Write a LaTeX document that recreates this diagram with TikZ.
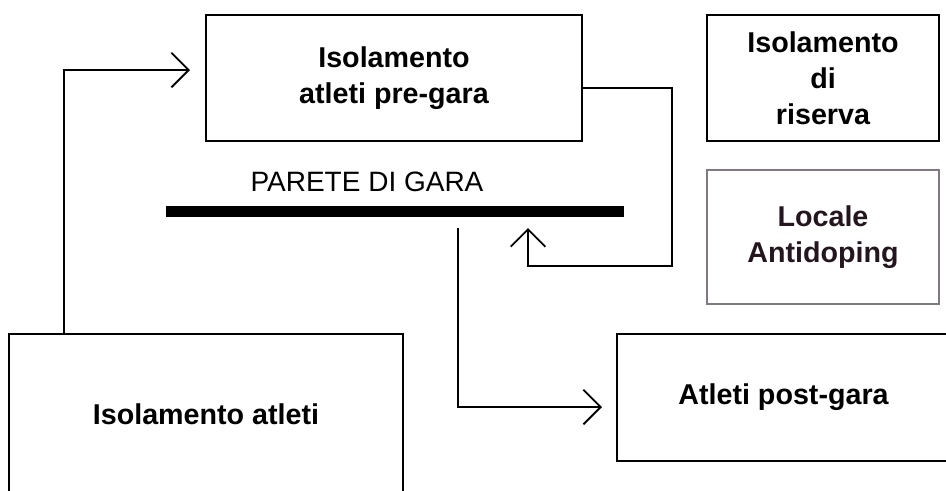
\documentclass[tikz,border=0pt]{standalone}
\usepackage{fontspec}
\setmainfont{Liberation Sans}
\usetikzlibrary{arrows.meta}
\definecolor{greyframe}{RGB}{128,120,130}
\definecolor{darktext}{RGB}{35,22,30}

\begin{document}
\begin{tikzpicture}[x=0.75pt, y=-0.75pt,
  room/.style={draw, line width=1.5pt, align=center, inner sep=0pt,
    font=\bfseries\fontsize{21.5}{27}\selectfont},
  link/.style={line width=1.4pt, -{Straight Barb[length=13pt, width=26pt]}},
]
\clip (0,0) rectangle (946,490);
% Rooms
\node[room, minimum width=282pt, minimum height=94.5pt] (pregara) at (394,78)
  {Isolamento\\atleti pre-gara};
\node[room, minimum width=174pt, minimum height=94.5pt] (riserva) at (823,78)
  {Isolamento\\di\\riserva};
\node[room, draw=greyframe, text=darktext, minimum width=174pt, minimum height=100.5pt] (antidoping) at (823,237)
  {Locale\\Antidoping};
\node[room, minimum width=295.5pt, minimum height=120pt] (atleti) at (206,414)
  {Isolamento atleti};
\node[room, minimum width=249.75pt, minimum height=95.25pt] (postgara) at (783.5,397.5)
  {Atleti post-gara};
% Climbing wall
\node[font=\fontsize{21}{25}\selectfont] (parete) at (367,182) {PARETE DI GARA};
\draw[line width=8.25pt] (166,211.5) -- (624,211.5);
% Paths of the athletes
\coordinate (preIn) at (190,70);
\coordinate (wallIn) at (528,228);
\coordinate (wallOut) at (458,228);
\coordinate (postIn) at (602,407);
\draw[link] ([xshift=42pt]atleti.north west) |- (preIn);
\draw[link] ([yshift=-7.5pt]pregara.east) -| (672,266) -| (wallIn);
\draw[link] (wallOut) |- (postIn);
\end{tikzpicture}
\end{document}
